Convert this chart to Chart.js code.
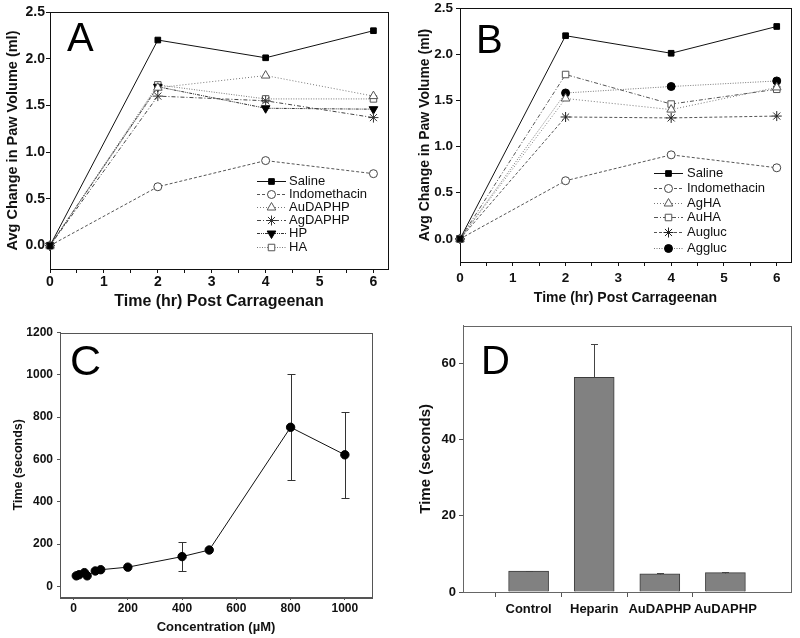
<!DOCTYPE html>
<html lang="en">
<head>
<meta charset="UTF-8">
<title>Paw volume and clotting time</title>
<script src="https://cdn.jsdelivr.net/npm/chart.js"></script>
<style>
    body { margin: 0; background: #fff; }
    canvas { position: absolute; }
</style>
</head>
<body>
<canvas id="chartA" width="400" height="310" style="left:0;top:0"></canvas>
<canvas id="chartB" width="400" height="310" style="left:400px;top:0"></canvas>
<canvas id="chartC" width="400" height="328" style="left:0;top:310px"></canvas>
<canvas id="chartD" width="400" height="328" style="left:400px;top:310px"></canvas>
<script>
// A and B: paw volume vs time
const hours = [0, 2, 4, 6];
const saline = [0, 2.20, 2.01, 2.30];
const indomethacin = [0, 0.63, 0.91, 0.77];
const auDAPHP = [0, 1.69, 1.82, 1.60];
const agDAPHP = [0, 1.60, 1.55, 1.37];
const hpVals = [0, 1.70, 1.47, 1.46];
const haVals = [0, 1.72, 1.57, 1.57];
const agHA = [0, 1.52, 1.40, 1.64];
const auHA = [0, 1.78, 1.46, 1.62];
const augluc = [0, 1.32, 1.31, 1.33];
const aggluc = [0, 1.58, 1.65, 1.71];
const timeTicks = [0, 0.5, 1, 1.5, 2, 2.5, 3, 3.5, 4, 4.5, 5, 5.5, 6];
const volumeTicks = [0, 0.5, 1, 1.5, 2, 2.5];

// C: time vs concentration
const concentration = [10, 20, 40, 50, 80, 100, 200, 400, 500, 800, 1000];
const concTime = [50, 55, 65, 50, 73, 79, 91, 141, 172, 752, 622];
const concErr = [0, 0, 0, 0, 0, 0, 0, 69, 0, 250, 202];
const concTicks = [0, 200, 400, 600, 800, 1000];
const secondsTicksC = [0, 200, 400, 600, 800, 1000, 1200];

// D: bar chart
const groups = ['Control', 'Heparin', 'AuDAPHP', 'AuDAPHP'];
const groupTime = [5.5, 56.4, 4.8, 5.1];
const groupErr = [0.15, 8.8, 0.1, 0.2];
const secondsTicksD = [0, 20, 40, 60];

const F = '"Liberation Sans", Arial, Helvetica, sans-serif';
Chart.defaults.font.family = F;
Chart.defaults.color = '#111';

function toPoints(xs, ys) { return xs.map((x, i) => ({ x: x, y: ys[i] })); }

function serie(label, values, style) {
    return Object.assign({
        label: label, data: toPoints(hours, values),
        borderWidth: 1, pointBorderWidth: 1, clip: false, fill: false, tension: 0,
        pointBackgroundColor: '#fff', pointBorderColor: '#444', pointRadius: 4, pointRotation: 0
    }, style);
}

// frame around the plot
function frame(color) {
    return {
        id: 'frame',
        beforeDatasetsDraw(chart) {
            const a = chart.chartArea, ctx = chart.ctx;
            ctx.save();
            ctx.strokeStyle = color; ctx.lineWidth = 1;
            ctx.strokeRect(Math.round(a.left) + 0.5, Math.round(a.top) + 0.5,
                Math.round(a.right - a.left), Math.round(a.bottom - a.top));
            ctx.restore();
        }
    };
}

// panel letter
function letter(txt, x, y, size) {
    return {
        id: 'letter',
        afterDraw(chart) {
            const ctx = chart.ctx;
            ctx.save();
            ctx.fillStyle = '#000';
            ctx.font = size + 'px ' + F;
            ctx.textBaseline = 'alphabetic';
            ctx.fillText(txt, x, y);
            ctx.restore();
        }
    };
}

// legend inside the plot, line + marker + text
function innerLegend(x0, x1, xt, rows) {
    return {
        id: 'innerLegend',
        afterDraw(chart) {
            const ctx = chart.ctx;
            ctx.save();
            chart.data.datasets.forEach((ds, i) => {
                const y = rows[i] + 0.5;
                ctx.strokeStyle = ds.borderColor;
                ctx.lineWidth = ds.borderWidth;
                ctx.setLineDash(ds.borderDash || []);
                ctx.beginPath(); ctx.moveTo(x0, y); ctx.lineTo(x1, y); ctx.stroke();
                ctx.setLineDash([]);
                ctx.fillStyle = ds.pointBackgroundColor;
                ctx.strokeStyle = ds.pointBorderColor;
                ctx.lineWidth = 1;
                Chart.helpers.drawPoint(ctx, {
                    pointStyle: ds.pointStyle, radius: ds.pointRadius,
                    rotation: ds.pointRotation || 0, borderWidth: 1
                }, (x0 + x1) / 2, y);
                ctx.fillStyle = '#111';
                ctx.font = '13px ' + F;
                ctx.textBaseline = 'middle';
                ctx.textAlign = 'left';
                ctx.fillText(ds.label, xt, y);
            });
            ctx.restore();
        }
    };
}

// vertical error bars
function errorBars(xs, ys, errs, both, cap, color, after) {
    const draw = (chart) => {
        const ctx = chart.ctx, sx = chart.scales.x, sy = chart.scales.y;
        ctx.save();
        ctx.strokeStyle = color; ctx.lineWidth = 1;
        xs.forEach((xv, i) => {
            if (!errs[i]) return;
            const px = Math.round(sx.getPixelForValue(xv)) + 0.5;
            const top = Math.round(sy.getPixelForValue(ys[i] + errs[i])) + 0.5;
            const bot = Math.round(sy.getPixelForValue(both ? ys[i] - errs[i] : ys[i])) + 0.5;
            ctx.beginPath();
            ctx.moveTo(px, top); ctx.lineTo(px, bot);
            ctx.moveTo(px - cap, top); ctx.lineTo(px + cap, top);
            if (both) { ctx.moveTo(px - cap, bot); ctx.lineTo(px + cap, bot); }
            ctx.stroke();
        });
        ctx.restore();
    };
    return after ? { id: 'errorBars', afterDatasetsDraw: draw } : { id: 'errorBars', beforeDatasetsDraw: draw };
}

function fixY(w) { return s => { s.width = w; s.paddingTop = 0; s.paddingBottom = 0; }; }
function fixX(h) { return s => { s.height = h; s.paddingLeft = 0; s.paddingRight = 0; }; }
function setTicks(list) { return s => { s.ticks = list.map(v => ({ value: v })); }; }

function pawOptions(p) {
    return {
        responsive: false, animation: false,
        layout: { padding: { top: p.top, right: p.right, left: 0, bottom: 0 } },
        plugins: { legend: { display: false }, tooltip: { enabled: false } },
        scales: {
            x: {
                type: 'linear', min: 0, max: 6.27,
                afterFit: fixX(p.xh), afterBuildTicks: setTicks(timeTicks),
                border: { color: '#111' },
                grid: { drawOnChartArea: false, tickLength: 4, tickColor: '#111' },
                ticks: {
                    autoSkip: false, maxRotation: 0, padding: p.xpad,
                    font: { size: p.tick, weight: 'bold' },
                    callback: v => Number.isInteger(v) ? String(v) : ''
                },
                title: {
                    display: true, text: 'Time (hr) Post Carrageenan',
                    font: { size: p.xtitle, weight: 'bold', lineHeight: 1 },
                    padding: { top: 0, bottom: p.xtpad }
                }
            },
            y: {
                min: -0.25, max: 2.5,
                afterFit: fixY(p.yw), afterBuildTicks: setTicks(volumeTicks),
                border: { color: '#111' },
                grid: { drawOnChartArea: false, tickLength: 4, tickColor: '#111' },
                ticks: { padding: p.ypad, font: { size: p.tick, weight: 'bold' }, callback: v => v.toFixed(1) },
                title: {
                    display: true, text: 'Avg Change in Paw Volume (ml)',
                    font: { size: p.ytitle, weight: 'bold', lineHeight: 1 },
                    padding: { top: p.ytpad, bottom: 0 }
                }
            }
        }
    };
}

const salineStyle = { borderColor: '#111', pointStyle: 'rect', pointRadius: 4, pointBackgroundColor: '#000', pointBorderColor: '#000' };
const indoStyle = { borderColor: '#555', borderDash: [3, 2], pointStyle: 'circle', pointRadius: 4 };

new Chart(document.getElementById('chartA'), {
    type: 'line',
    data: {
        datasets: [
            serie('Saline', saline, salineStyle),
            serie('Indomethacin', indomethacin, indoStyle),
            serie('AuDAPHP', auDAPHP, { borderColor: '#777', borderDash: [1, 2], pointStyle: 'triangle', pointRadius: 5, pointBorderColor: '#555' }),
            serie('AgDAPHP', agDAPHP, { borderColor: '#444', borderDash: [4, 2, 1, 2], pointStyle: 'star', pointRadius: 5, pointBorderColor: '#333' }),
            serie('HP', hpVals, { borderColor: '#333', borderDash: [3, 1, 1, 1, 1, 1], pointStyle: 'triangle', pointRotation: 180, pointRadius: 5, pointBackgroundColor: '#000', pointBorderColor: '#000' }),
            serie('HA', haVals, { borderColor: '#777', borderDash: [1, 1.5], pointStyle: 'rect', pointRadius: 4.6, pointBorderColor: '#555' })
        ]
    },
    options: pawOptions({ top: 12, right: 12, xh: 41, yw: 50, xpad: 1, xtpad: 0, ypad: 1, ytpad: 6, tick: 14, xtitle: 16, ytitle: 14.5 }),
    plugins: [frame('#111'), letter('A', 67, 51, 40), innerLegend(257, 286, 289, [181, 194, 207, 220, 233, 247])]
});

new Chart(document.getElementById('chartB'), {
    type: 'line',
    data: {
        datasets: [
            serie('Saline', saline, salineStyle),
            serie('Indomethacin', indomethacin, indoStyle),
            serie('AgHA', agHA, { borderColor: '#777', borderDash: [1, 2], pointStyle: 'triangle', pointRadius: 5, pointBorderColor: '#555' }),
            serie('AuHA', auHA, { borderColor: '#555', borderDash: [4, 2, 1, 2], pointStyle: 'rect', pointRadius: 4.6, pointBorderColor: '#555' }),
            serie('Augluc', augluc, { borderColor: '#555', borderDash: [3, 2], pointStyle: 'star', pointRadius: 5, pointBorderColor: '#222' }),
            serie('Aggluc', aggluc, { borderColor: '#777', borderDash: [1, 1.5], pointStyle: 'circle', pointRadius: 4, pointBackgroundColor: '#000', pointBorderColor: '#000' })
        ]
    },
    options: pawOptions({ top: 8, right: 9, xh: 48, yw: 60, xpad: 4, xtpad: 5, ypad: 3, ytpad: 18, tick: 13.5, xtitle: 14, ytitle: 14 }),
    plugins: [frame('#111'), letter('B', 76, 53, 40), innerLegend(254, 283, 287, [173, 188, 203, 217, 232, 248])]
});

new Chart(document.getElementById('chartC'), {
    type: 'line',
    data: {
        datasets: [{
            data: toPoints(concentration, concTime),
            borderColor: '#111', borderWidth: 1, tension: 0, fill: false, clip: false,
            pointStyle: 'circle', pointRadius: 4.2, pointBackgroundColor: '#000', pointBorderColor: '#000'
        }]
    },
    options: {
        responsive: false, animation: false,
        layout: { padding: { top: 22.5, right: 28, left: 0, bottom: 0 } },
        plugins: { legend: { display: false }, tooltip: { enabled: false } },
        scales: {
            x: {
                type: 'linear', min: -50, max: 1100,
                afterFit: fixX(41), afterBuildTicks: setTicks(concTicks),
                border: { color: '#555' },
                grid: { drawOnChartArea: false, tickLength: 3, tickColor: '#555' },
                ticks: { maxRotation: 0, padding: 1, font: { size: 12, weight: 'bold' }, callback: v => String(v) },
                title: {
                    display: true, text: 'Concentration (\u00b5M)',
                    font: { size: 13, weight: 'bold', lineHeight: 1 }, padding: { top: 0, bottom: 4 }
                }
            },
            y: {
                min: -50, max: 1200,
                afterFit: fixY(60), afterBuildTicks: setTicks(secondsTicksC),
                border: { color: '#555' },
                grid: { drawOnChartArea: false, tickLength: 3, tickColor: '#555' },
                ticks: { padding: 4, font: { size: 12, weight: 'bold' }, callback: v => String(v) },
                title: {
                    display: true, text: 'Time (seconds)',
                    font: { size: 12.5, weight: 'bold', lineHeight: 1 }, padding: { top: 12, bottom: 0 }
                }
            }
        }
    },
    plugins: [frame('#555'), errorBars(concentration, concTime, concErr, true, 4, '#333', false), letter('C', 70, 65, 43)]
});

const dLabels = [''].concat(groups, ['']);
new Chart(document.getElementById('chartD'), {
    type: 'bar',
    data: {
        labels: dLabels,
        datasets: [{
            data: [null].concat(groupTime, [null]),
            backgroundColor: '#818181', borderColor: '#3c3c3c', borderWidth: 1, barThickness: 40
        }]
    },
    options: {
        responsive: false, animation: false,
        layout: { padding: { top: 15.7, right: 9, left: 0, bottom: 0 } },
        plugins: { legend: { display: false }, tooltip: { enabled: false } },
        scales: {
            x: {
                offset: false, afterFit: fixX(46),
                border: { color: '#666' },
                grid: {
                    drawOnChartArea: false, tickLength: 5,
                    tickColor: c => (c.index === 0 || c.index === dLabels.length - 1) ? 'rgba(0,0,0,0)' : '#555'
                },
                ticks: { autoSkip: false, maxRotation: 0, padding: 5, font: { size: 13, weight: 'bold' } }
            },
            y: {
                min: 0, max: 70,
                afterFit: fixY(63), afterBuildTicks: setTicks(secondsTicksD),
                border: { color: '#666' },
                grid: { drawOnChartArea: false, tickLength: 4, tickColor: '#555' },
                ticks: { padding: 3, font: { size: 13, weight: 'bold' } },
                title: {
                    display: true, text: 'Time (seconds)',
                    font: { size: 15, weight: 'bold', lineHeight: 1 }, padding: { top: 18, bottom: 0 }
                }
            }
        }
    },
    plugins: [frame('#666'), errorBars([1, 2, 3, 4], groupTime, groupErr, false, 3.5, '#444', true), letter('D', 81, 64, 40)]
});
</script>
</body>
</html>
